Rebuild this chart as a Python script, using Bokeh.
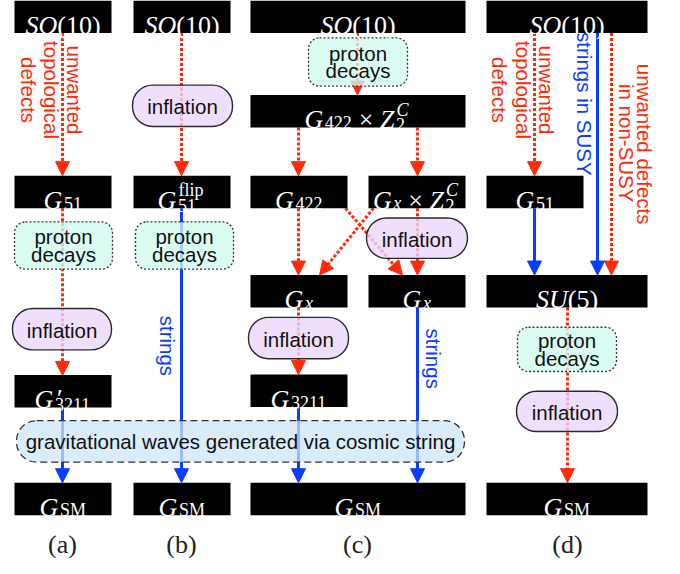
from bokeh.plotting import figure
from bokeh.models import Range1d, Arrow, NormalHead, ColumnDataSource
from bokeh.core.properties import value
from bokeh.embed import file_html
from bokeh.resources import INLINE
import math

# ---------------- diagram data ----------------
# black group boxes
box_keys = ["SO10", "SO10", "SO10", "SO10", "G422Z2",
            "G51", "G51flip", "G422", "GxZ2", "G51",
            "Gx", "Gx", "SU5", "G3211p", "G3211",
            "GSM", "GSM", "GSM", "GSM"]
box_cx = [62.5, 181.5, 357.5, 566.5, 357.5,
          62.5, 181.5, 298.5, 416.5, 534.5,
          298.5, 416.5, 566.5, 62.5, 298.5,
          62.5, 181.5, 357.5, 566.5]
box_cy = [16.5, 16.5, 16.5, 16.5, 112.5,
          194.5, 194.5, 194.5, 194.5, 194.5,
          295.5, 295.5, 295.5, 397.0, 396.5,
          506.5, 506.5, 506.5, 506.5]
box_w = [97, 97, 215, 161, 215,
         97, 97, 97, 97, 97,
         97, 97, 161, 97, 97,
         97, 97, 215, 161]
box_h = [33] * len(box_cx)

# "inflation" pills
infl_cx = [182, 61.5, 416.5, 298, 566.5]
infl_cy = [107, 334, 241.5, 343, 417.5]
infl_w = [100, 99, 101, 100, 101]
infl_h = [42, 42, 41, 42, 41]

# "proton decays" boxes
pd_cx = [357.5, 63, 184, 566.5]
pd_cy = [62.5, 249, 249, 354.5]
pd_w = [99, 98, 98, 99]
pd_h = [49, 48, 48, 45]

# gravitational-wave band
gw_cx = [240]
gw_cy = [448]
gw_w = [448]
gw_h = [42]
gw_text = ["gravitational waves generated via cosmic string"]

# red dotted arrows (unwanted defects / breaking steps)
red_x0 = [62, 62, 181, 357, 298, 417, 298, 417, 345, 373, 298, 534, 611, 567]
red_y0 = [33, 211, 33, 33, 129, 129, 211, 211, 211, 211, 312, 33, 33, 312]
red_x1 = [62, 62, 181, 357, 298, 417, 298, 417, 402, 319, 298, 534, 611, 567]
red_y1 = [178, 381, 178, 96, 178, 178, 279, 279, 279, 279, 380, 178, 279, 490]

# blue solid arrows (strings)
blue_x0 = [62, 181, 298, 417, 534, 597]
blue_y0 = [413, 211, 413, 312, 211, 33]
blue_x1 = [62, 181, 298, 417, 534, 597]
blue_y1 = [490, 490, 490, 490, 279, 279]

# rotated side labels
rot_text = ["unwanted", "topological", "defects",
            "unwanted", "topological", "defects",
            "unwanted defects", "in non-SUSY",
            "strings in SUSY", "strings", "strings"]
rot_x = [74, 51, 28, 546, 523, 499, 644, 626, 584, 167, 433]
rot_y = [91, 91, 91, 91, 91, 91, 146, 145, 105, 351, 364]
rot_kind = ["red"] * 8 + ["blue"] * 3

# panel captions
cap_text = ["(a)", "(b)", "(c)", "(d)"]
cap_x = [62, 181, 357, 567]
cap_y = [553, 553, 553, 553]

# ---------------- styling ----------------
RED = "#ff2a0a"
BLUE = "#0a3cff"
SANS = "Liberation Sans"
SERIF = "Liberation Serif"
SANS_PX = "20.5px"
MAIN_PX = 26
SUB_PX = 18
K = 1.0  # data units per screen pixel (x)

p = figure(width=664, height=558, x_range=Range1d(0, 664), y_range=Range1d(567, 0),
           output_backend="svg", toolbar_location=None, min_border=0,
           x_axis_location=None, y_axis_location=None)
p.grid.visible = False
p.outline_line_color = None
p.background_fill_color = "white"
p.border_fill_color = "white"

# arrows (drawn under everything)
red_src = ColumnDataSource(dict(x0=red_x0, y0=red_y0, x1=red_x1, y1=red_y1))
blue_src = ColumnDataSource(dict(x0=blue_x0, y0=blue_y0, x1=blue_x1, y1=blue_y1))
p.add_layout(Arrow(end=NormalHead(size=14, fill_color=RED, line_color=RED, line_width=1),
                   x_start="x0", y_start="y0", x_end="x1", y_end="y1", source=red_src,
                   line_color=RED, line_width=3, line_dash="3 2", level="underlay"))
p.add_layout(Arrow(end=NormalHead(size=14, fill_color=BLUE, line_color=BLUE, line_width=1),
                   x_start="x0", y_start="y0", x_end="x1", y_end="y1", source=blue_src,
                   line_color=BLUE, line_width=3, level="underlay"))

# black boxes
p.rect(x=box_cx, y=box_cy, width=box_w, height=box_h, fill_color="black", line_color=None)

# pills
p.rect(x=infl_cx, y=infl_cy, width=infl_w, height=infl_h, fill_color="#ead6fc",
       fill_alpha=0.78, line_color="#2a2a2a", line_width=1.4, border_radius=20)
p.rect(x=pd_cx, y=pd_cy, width=pd_w, height=pd_h, fill_color="#d0fbef",
       fill_alpha=0.78, line_color="#333333", line_width=1.3, line_dash="2 2",
       border_radius=11)
p.rect(x=gw_cx, y=gw_cy, width=gw_w, height=gw_h, fill_color="#cde6f8",
       fill_alpha=0.75, line_color="#333333", line_width=1.3, line_dash="7 4",
       border_radius=20)

# pill texts
p.text(x=infl_cx, y=[c + 1 for c in infl_cy], text=["inflation"] * len(infl_cx),
       text_font=value(SANS), text_font_size=SANS_PX, text_color="#111111",
       text_align="center", text_baseline="middle")
pd_tx = pd_cx + pd_cx
pd_ty = [c - 9 for c in pd_cy] + [c + 9 for c in pd_cy]
p.text(x=pd_tx, y=pd_ty, text=["proton"] * len(pd_cx) + ["decays"] * len(pd_cx),
       text_font=value(SANS), text_font_size=SANS_PX, text_color="#111111",
       text_align="center", text_baseline="middle")
p.text(x=gw_cx, y=gw_cy, text=gw_text, text_font=value(SANS), text_font_size=SANS_PX,
       text_color="#111111", text_align="center", text_baseline="middle")

# rotated labels
for kind, col in (("red", RED), ("blue", BLUE)):
    idx = [i for i, k in enumerate(rot_kind) if k == kind]
    p.text(x=[rot_x[i] for i in idx], y=[rot_y[i] for i in idx],
           text=[rot_text[i] for i in idx], angle=-math.pi / 2,
           text_font=value(SANS), text_font_size=SANS_PX, text_color=col,
           text_align="center", text_baseline="middle")

# ---------------- math labels in boxes ----------------
RM = {'(': .333, ')': .333, 'S': .556, 'M': .889, 'f': .333, 'l': .278, 'i': .278,
      'p': .5, '×': .564, '′': .28}
IT = {'S': .5, 'O': .722, 'G': .722, 'U': .722, 'x': .444, 'Z': .556, 'C': .667}


def tw(s, style, size):
    tab = IT if style == "italic" else RM
    return sum(tab.get(c, .5) for c in s) * size * K


formulas = {
    "SO10": [("main", "SO", "italic"), ("main", "(10)", "normal")],
    "SU5": [("main", "SU", "italic"), ("main", "(5)", "normal")],
    "G51": [("main", "G", "italic"), ("sub", "51", "normal")],
    "G51flip": [("main", "G", "italic"), ("stack", "flip", "normal", "51", "normal")],
    "G422": [("main", "G", "italic"), ("sub", "422", "normal")],
    "G422Z2": [("main", "G", "italic"), ("sub", "422", "normal"), ("gap",),
               ("main", "×", "normal"), ("gap",),
               ("main", "Z", "italic"), ("stack", "C", "italic", "2", "normal")],
    "GxZ2": [("main", "G", "italic"), ("sub", "x", "italic"), ("gap",),
             ("main", "×", "normal"), ("gap",),
             ("main", "Z", "italic"), ("stack", "C", "italic", "2", "normal")],
    "Gx": [("main", "G", "italic"), ("sub", "x", "italic")],
    "G3211p": [("main", "G", "italic"), ("stack", "′", "normal", "3211", "normal")],
    "G3211": [("main", "G", "italic"), ("sub", "3211", "normal")],
    "GSM": [("main", "G", "italic"), ("sub", "SM", "normal")],
}

groups = {}


def put(x, y, s, style, size):
    groups.setdefault((style, size), ([], [], []))
    g = groups[(style, size)]
    g[0].append(x)
    g[1].append(y)
    g[2].append(s)


for key, cx, cy in zip(box_keys, box_cx, box_cy):
    segs = formulas[key]
    widths = []
    for sg in segs:
        if sg[0] == "gap":
            widths.append(0.25 * MAIN_PX * K)
        elif sg[0] == "main":
            widths.append(tw(sg[1], sg[2], MAIN_PX))
        elif sg[0] == "sub":
            widths.append(tw(sg[1], sg[2], SUB_PX) + 2)
        else:
            sup_size = MAIN_PX if sg[1] == "′" else SUB_PX
            widths.append(max(tw(sg[1], sg[2], sup_size) + 3, tw(sg[3], sg[4], SUB_PX)) + 2)
    x = cx - sum(widths) / 2
    base = cy + 8.5
    for sg, wd in zip(segs, widths):
        if sg[0] == "gap":
            pass
        elif sg[0] == "main":
            put(x, base, sg[1], sg[2], MAIN_PX)
        elif sg[0] == "sub":
            put(x + 1.5, base + 3, sg[1], sg[2], SUB_PX)
        else:
            if sg[1] == "′":
                put(x + 3.5, base - 1, sg[1], sg[2], MAIN_PX)
            else:
                put(x + 2, base - 10, sg[1], sg[2], SUB_PX)
            put(x + 1.5, base + 5, sg[3], sg[4], SUB_PX)
        x += wd

for (style, size), (xs, ys, ts) in groups.items():
    p.text(x=xs, y=ys, text=ts, text_font=value(SERIF), text_font_size=f"{size}px",
           text_font_style=style, text_color="white", text_align="left",
           text_baseline="alphabetic")

# captions
p.text(x=cap_x, y=cap_y, text=cap_text, text_font=value(SERIF), text_font_size="26px",
       text_color="#222222", text_align="center", text_baseline="middle")

open("out.html", "w").write(file_html(p, INLINE))
